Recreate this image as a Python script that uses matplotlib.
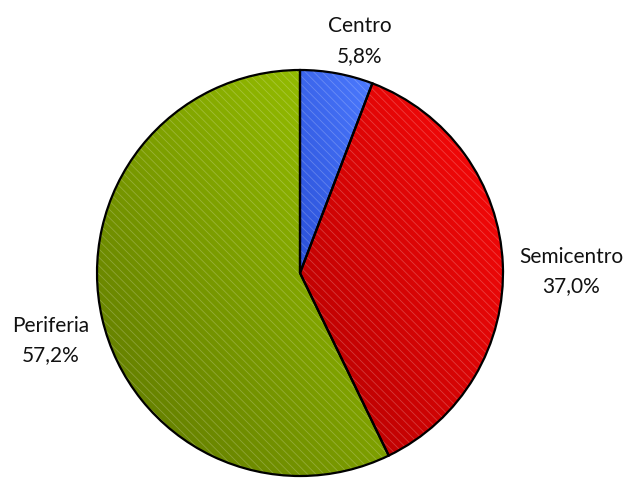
import numpy as np
import matplotlib
matplotlib.use("Agg")
import matplotlib.pyplot as plt
from matplotlib.colors import LinearSegmentedColormap

# Datos del gráfico
labels = ["Centro", "Semicentro", "Periferia"]
values = [5.8, 37.0, 57.2]
pct_text = ["5,8%", "37,0%", "57,2%"]

# colores (claro, oscuro) para el degradado de cada sector
light = ["#4d7bff", "#ff0a0a", "#9dc800"]
dark = ["#2a50d8", "#b00000", "#5c7400"]

plt.rcParams['font.family'] = ['Lato', 'DejaVu Sans']
plt.rcParams['hatch.linewidth'] = 0.6

fig = plt.figure(figsize=(6.26, 4.81), dpi=100)
ax = fig.add_axes([0, 0, 1, 1])

cx, cy, r = 300, 481 - 274, 203

wedges, _ = ax.pie(values, startangle=90, counterclock=False,
                   center=(cx, cy), radius=r, frame=True,
                   wedgeprops=dict(linewidth=1.6, edgecolor="black", facecolor="none"))

for i, w in enumerate(wedges):
    v = w.get_path().vertices
    x0, y0 = v.min(axis=0)
    x1, y1 = v.max(axis=0)
    xx, yy = np.meshgrid(np.linspace(0, 1, 200), np.linspace(0, 1, 200))
    grad = (xx + yy) / 2
    cmap = LinearSegmentedColormap.from_list("g%d" % i, [dark[i], light[i]])
    im = ax.imshow(grad, extent=(x0, x1, y0, y1), origin='lower', cmap=cmap,
                   aspect='auto', zorder=1, interpolation='bilinear')
    im.set_clip_path(w)
    # rayado fino
    ax.pie([values[i], 100 - values[i]], startangle=90 - sum(values[:i]) * 3.6,
           counterclock=False, center=(cx, cy), radius=r, frame=True,
           colors=["none", "none"],
           wedgeprops=dict(linewidth=0, edgecolor=(1, 1, 1, 0.22), hatch="\\\\\\\\"))[0][1].set_visible(False)
    w.set_zorder(3)

ax.set_xlim(0, 626)
ax.set_ylim(0, 481)
ax.set_aspect('equal')
ax.axis('off')

# posición de etiquetas: (distancia relativa, desplazamiento angular)
lab_dist = [1.185, 1.335, 1.27]
lab_shift = [-4.0, -2.0, 2.0]
for i, w in enumerate(wedges):
    mid = (w.theta1 + w.theta2) / 2 + lab_shift[i]
    tx = cx + r * lab_dist[i] * np.cos(np.radians(mid))
    ty = cy + r * lab_dist[i] * np.sin(np.radians(mid))
    ax.text(tx, ty, labels[i] + "\n" + pct_text[i], ha='center', va='center',
            fontsize=15, linespacing=1.6, color="#111111")

fig.savefig("out.png", dpi=100)
